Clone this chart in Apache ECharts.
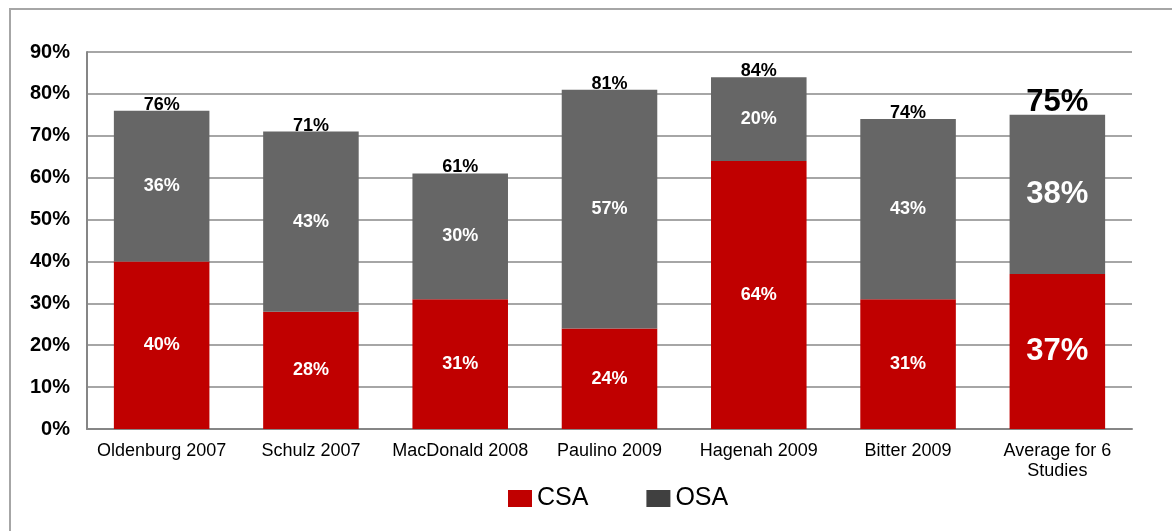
<!DOCTYPE html>
<html>
<head>
<meta charset="utf-8">
<script src="https://cdn.jsdelivr.net/npm/echarts@6/dist/echarts.min.js"></script>
<style>
  html, body { margin: 0; padding: 0; background: #fff; overflow: hidden; }
  #frame { position: absolute; left: 9px; top: 8px; width: 1200px; height: 560px;
           border-top: 2px solid #a6a6a6; border-left: 2px solid #a6a6a6; }
  #chart { position: absolute; left: 0; top: 0; width: 1172px; height: 531px; }
</style>
</head>
<body>
<div id="frame"></div>
<div id="chart"></div>
<script>
// 研究列表 + 两类数值（百分比）
const studies = ['Oldenburg 2007', 'Schulz 2007', 'MacDonald 2008', 'Paulino 2009',
                 'Hagenah 2009', 'Bitter 2009', 'Average for 6\nStudies'];
const csaValues = [40, 28, 31, 24, 64, 31, 37];
const osaValues = [36, 43, 30, 57, 20, 43, 38];
const totals    = [76, 71, 61, 81, 84, 74, 75];
const yTicks = [0, 10, 20, 30, 40, 50, 60, 70, 80, 90];

const FONT = '"Liberation Sans", Arial, sans-serif';
const RED = '#c00000';
const GRAY = '#666666';

// 最后一根（平均值）用大号字
const last = studies.length - 1;
function withBigLast(vals) {
  return vals.map((v, i) => i === last
    ? { value: v, label: { fontSize: 31 } }
    : v);
}

const chart = echarts.init(document.getElementById('chart'));
chart.setOption({
  animation: false,
  textStyle: { fontFamily: FONT },
  grid: { left: 87, right: 40, top: 52, bottom: 102 },
  legend: {
    left: 503, top: 481,
    icon: 'rect',
    itemWidth: 24, itemHeight: 17, itemGap: 58,
    textStyle: { fontSize: 25, color: '#000', fontFamily: FONT },
    data: [
      { name: 'CSA', itemStyle: { color: RED } },
      { name: 'OSA', itemStyle: { color: '#404040' } },
    ],
  },
  xAxis: {
    type: 'category',
    data: studies,
    axisTick: { show: false },
    axisLine: { lineStyle: { color: '#868686', width: 2 } },
    axisLabel: { interval: 0, color: '#000', fontSize: 18, margin: 12, lineHeight: 20,
                 fontFamily: FONT },
  },
  yAxis: {
    type: 'value',
    min: yTicks[0], max: yTicks[yTicks.length - 1], interval: 10,
    axisLine: { show: true, lineStyle: { color: '#868686', width: 2 } },
    axisTick: { show: false },
    splitLine: { lineStyle: { color: '#a6a6a6', width: 2 } },
    axisLabel: { formatter: '{value}%', color: '#000', fontSize: 20, fontWeight: 'bold',
                 margin: 17, fontFamily: FONT },
  },
  series: [
    {
      name: 'CSA', type: 'bar', stack: 'all', barWidth: '64%',
      data: withBigLast(csaValues),
      itemStyle: { color: RED },
      label: { show: true, position: 'inside', formatter: '{c}%', color: '#fff',
               fontSize: 18, fontWeight: 'bold', fontFamily: FONT },
      z: 3,
    },
    {
      name: 'OSA', type: 'bar', stack: 'all', barWidth: '64%',
      data: withBigLast(osaValues),
      itemStyle: { color: GRAY },
      label: { show: true, position: 'inside', formatter: '{c}%', color: '#fff',
               fontSize: 18, fontWeight: 'bold', fontFamily: FONT },
      z: 3,
    },
    {
      // 总数标签（放在柱顶）
      name: 'Total', type: 'scatter', symbolSize: 0,
      data: withBigLast(totals),
      itemStyle: { opacity: 1 },
      label: { show: true, position: 'top', distance: -3, formatter: '{c}%', color: '#000',
               fontSize: 18, fontWeight: 'bold', fontFamily: FONT },
      z: 2,
    },
  ],
});
</script>
</body>
</html>
